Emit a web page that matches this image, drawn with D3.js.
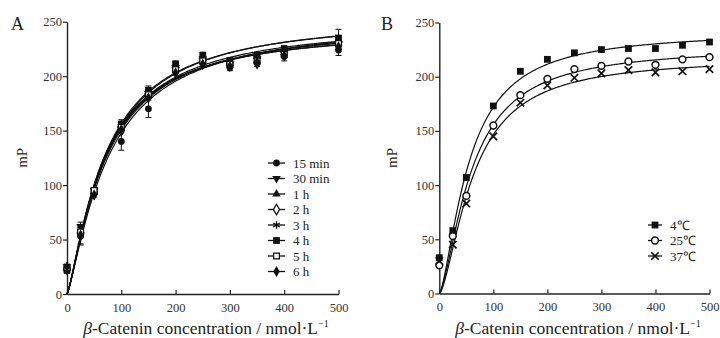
<!DOCTYPE html>
<html><head><meta charset="utf-8">
<script src="https://cdn.jsdelivr.net/npm/d3@7"></script>
<style>
html,body{margin:0;padding:0;background:#fff;}
svg{display:block;font-family:"Liberation Serif","Times New Roman",serif;}
</style></head>
<body><svg id="c" width="720" height="338"></svg>
<script>
// ---------- data ----------
const concA = [0, 25, 50, 100, 150, 200, 250, 300, 350, 400, 500];
const concB = [0, 25, 50, 100, 150, 200, 250, 300, 350, 400, 450, 500];
const xTicks = [0, 100, 200, 300, 400, 500];
const yTicks = [0, 50, 100, 150, 200, 250];

const namesA = ["15 min", "30 min", "1 h", "2 h", "3 h", "4 h", "5 h", "6 h"];
const symA   = ["circle", "triDown", "triUp", "diamondOpen", "star", "square", "squareOpen", "diamond"];
const vals15m = [22, 53, 93, 140, 170, 205, 213, 208, 212, 218, 224];
const vals30m = [25, 62, 95, 152, 184, 208, 216, 211, 216, 222, 230];
const vals1h  = [24, 58, 94, 155, 186, 210, 218, 212, 218, 224, 233];
const vals2h  = [23, 55, 92, 150, 182, 204, 212, 210, 212, 220, 228];
const vals3h  = [26, 60, 96, 154, 185, 207, 215, 213, 215, 221, 226];
const vals4h  = [22, 56, 94, 156, 187, 211, 219, 214, 219, 225, 235];
const vals5h  = [24, 57, 95, 153, 183, 206, 214, 211, 214, 220, 230];
const vals6h  = [25, 54, 91, 151, 180, 203, 211, 209, 213, 219, 227];
const err15m  = [3, 8, 4, 8, 8, 4, 4, 3, 3, 4, 5];
const err4h   = [2, 10, 3, 4, 4, 3, 3, 3, 3, 3, 8];
// fitted binding curves (Bmax, Kd, Hill)
const bmaxA = [246, 255, 250, 245, 248, 256, 250, 252];
const kdA   = [68, 70, 72, 66, 70, 72, 70, 76];
const hillA = [1.3, 1.3, 1.28, 1.3, 1.3, 1.3, 1.3, 1.28];

const namesB = ["4\u2103", "25\u2103", "37\u2103"];
const symB   = ["square", "circleOpen", "cross"];
const vals4C  = [33, 58, 107, 173, 205, 216, 222, 225, 226, 226, 229, 232];
const vals25C = [26, 53, 90, 155, 183, 198, 207, 210, 214, 211, 216, 218];
const vals37C = [30, 45, 83, 145, 176, 192, 199, 203, 206, 204, 205, 207];
const bmaxB = [242, 228, 218];
const kdB   = [55, 60, 63];
const hillB = [1.5, 1.5, 1.55];

const seriesA = [vals15m, vals30m, vals1h, vals2h, vals3h, vals4h, vals5h, vals6h];
const errA = [err15m, null, null, null, null, err4h, null, null];
const seriesB = [vals4C, vals25C, vals37C];

// ---------- drawing ----------
const svg = d3.select("#c");
const fit = (bm, kd, h) => x => bm * Math.pow(x, h) / (Math.pow(kd, h) + Math.pow(x, h));

function marker(g, type, cx, cy) {
  const s = 3.4;
  const k = g.append("g").attr("transform", `translate(${cx},${cy})`);
  const fillB = "#111";
  switch (type) {
    case "circle": k.append("circle").attr("r", s).attr("fill", fillB); break;
    case "circleOpen": k.append("circle").attr("r", s).attr("fill", "#fff").attr("stroke", fillB).attr("stroke-width", 1.5); break;
    case "square": k.append("rect").attr("x", -s).attr("y", -s).attr("width", 2*s).attr("height", 2*s).attr("fill", fillB); break;
    case "squareOpen": k.append("rect").attr("x", -s+0.5).attr("y", -s+0.5).attr("width", 2*s-1).attr("height", 2*s-1).attr("fill", "#fff").attr("stroke", fillB).attr("stroke-width", 1.3); break;
    case "triUp": k.append("path").attr("d", d3.symbol(d3.symbolTriangle, 32)()).attr("fill", fillB); break;
    case "triDown": k.append("path").attr("d", d3.symbol(d3.symbolTriangle, 32)()).attr("transform", "rotate(180)").attr("fill", fillB); break;
    case "diamond": k.append("path").attr("d", d3.symbol(d3.symbolDiamond, 36)()).attr("fill", fillB); break;
    case "diamondOpen": k.append("path").attr("d", d3.symbol(d3.symbolDiamond, 32)()).attr("fill", "#fff").attr("stroke", fillB).attr("stroke-width", 1.3); break;
    case "star": k.append("path").attr("d", d3.symbol(d3.symbolAsterisk, 38)()).attr("fill", "none").attr("stroke", fillB).attr("stroke-width", 1.3); break;
    case "cross": k.append("path").attr("d", d3.symbol(d3.symbolTimes, 38)()).attr("fill", "none").attr("stroke", fillB).attr("stroke-width", 1.7); break;
  }
}

function panel(opts) {
  const x = d3.scaleLinear().domain([0, 500]).range([opts.x0, opts.x1]);
  const y = d3.scaleLinear().domain([0, 250]).range([opts.y0, opts.y1]);
  const g = svg.append("g");

  const xa = g.append("g").attr("transform", `translate(0,${opts.y0})`)
    .call(d3.axisBottom(x).tickValues(xTicks).tickSizeInner(-4).tickSizeOuter(0).tickPadding(9));
  const ya = g.append("g").attr("transform", `translate(${opts.x0},0)`)
    .call(d3.axisLeft(y).tickValues(yTicks).tickSize(4).tickSizeOuter(0).tickPadding(1));
  [xa, ya].forEach(a => {
    a.select(".domain").attr("stroke", "#222").attr("stroke-width", 1.4);
    a.selectAll(".tick line").attr("stroke", "#222").attr("stroke-width", 1.2);
    a.selectAll("text").attr("font-family", "Liberation Serif").attr("font-size", 12.5).attr("fill", "#333");
  });

  // curves
  const xs = d3.range(0, 500.01, 2);
  const line = d3.line().x(d => x(d[0])).y(d => y(d[1]));
  opts.series.forEach((vals, i) => {
    const f = fit(opts.bmax[i], opts.kd[i], opts.hill[i]);
    g.append("path").datum(xs.map(v => [v, f(v)]))
      .attr("d", line).attr("fill", "none").attr("stroke", "#111").attr("stroke-width", 1.2);
  });
  // error bars & points
  opts.series.forEach((vals, i) => {
    const e = opts.err ? opts.err[i] : null;
    vals.forEach((v, j) => {
      const cx = x(opts.conc[j]);
      if (e) {
        g.append("line").attr("x1", cx).attr("x2", cx).attr("y1", y(v - e[j])).attr("y2", y(v + e[j])).attr("stroke", "#111").attr("stroke-width", 1);
        [v - e[j], v + e[j]].forEach(w => g.append("line").attr("x1", cx - 3).attr("x2", cx + 3).attr("y1", y(w)).attr("y2", y(w)).attr("stroke", "#111").attr("stroke-width", 1));
      }
      marker(g, opts.sym[i], cx, y(v));
    });
  });

  // legend
  opts.names.forEach((n, i) => {
    const ly = opts.ly + i * opts.lstep;
    g.append("line").attr("x1", opts.lx).attr("x2", opts.lx + opts.lw).attr("y1", ly).attr("y2", ly).attr("stroke", "#111").attr("stroke-width", 1.3);
    marker(g, opts.sym[i], opts.lx + opts.lw / 2, ly);
    g.append("text").attr("x", opts.lx + opts.lw + 8).attr("y", ly + 4.5).attr("font-size", 13).attr("fill", "#222").text(n);
  });

  // axis titles
  const xt = g.append("text").attr("x", opts.xlabX).attr("y", 334).attr("text-anchor", "middle").attr("font-size", 17.5).attr("fill", "#222");
  xt.append("tspan").attr("font-style", "italic").text("\u03b2");
  xt.append("tspan").text("-Catenin concentration / nmol\u00b7L");
  xt.append("tspan").attr("font-size", 10).attr("dy", -7).text("\u22121");
  g.append("text").attr("transform", `translate(${opts.ylabX},${(opts.y0 + opts.y1) / 2}) rotate(-90)`)
    .attr("text-anchor", "middle").attr("font-size", 15).attr("fill", "#222").text("mP");
  g.append("text").attr("x", opts.panX).attr("y", 30).attr("font-size", 18).attr("fill", "#222").text(opts.panel);
}

panel({x0: 67, x1: 338.5, y0: 294, y1: 21.7, conc: concA, series: seriesA, err: errA, sym: symA, names: namesA,
  bmax: bmaxA, kd: kdA, hill: hillA, lx: 268, lw: 17, ly: 163, lstep: 15.5, xlabX: 206, ylabX: 27, panX: 11, panel: "A"});
panel({x0: 439.3, x1: 709.5, y0: 293.5, y1: 22.5, conc: concB, series: seriesB, err: null, sym: symB, names: namesB,
  bmax: bmaxB, kd: kdB, hill: hillB, lx: 648, lw: 14, ly: 225, lstep: 15.5, xlabX: 578, ylabX: 397, panX: 381, panel: "B"});
</script>
</body></html>
